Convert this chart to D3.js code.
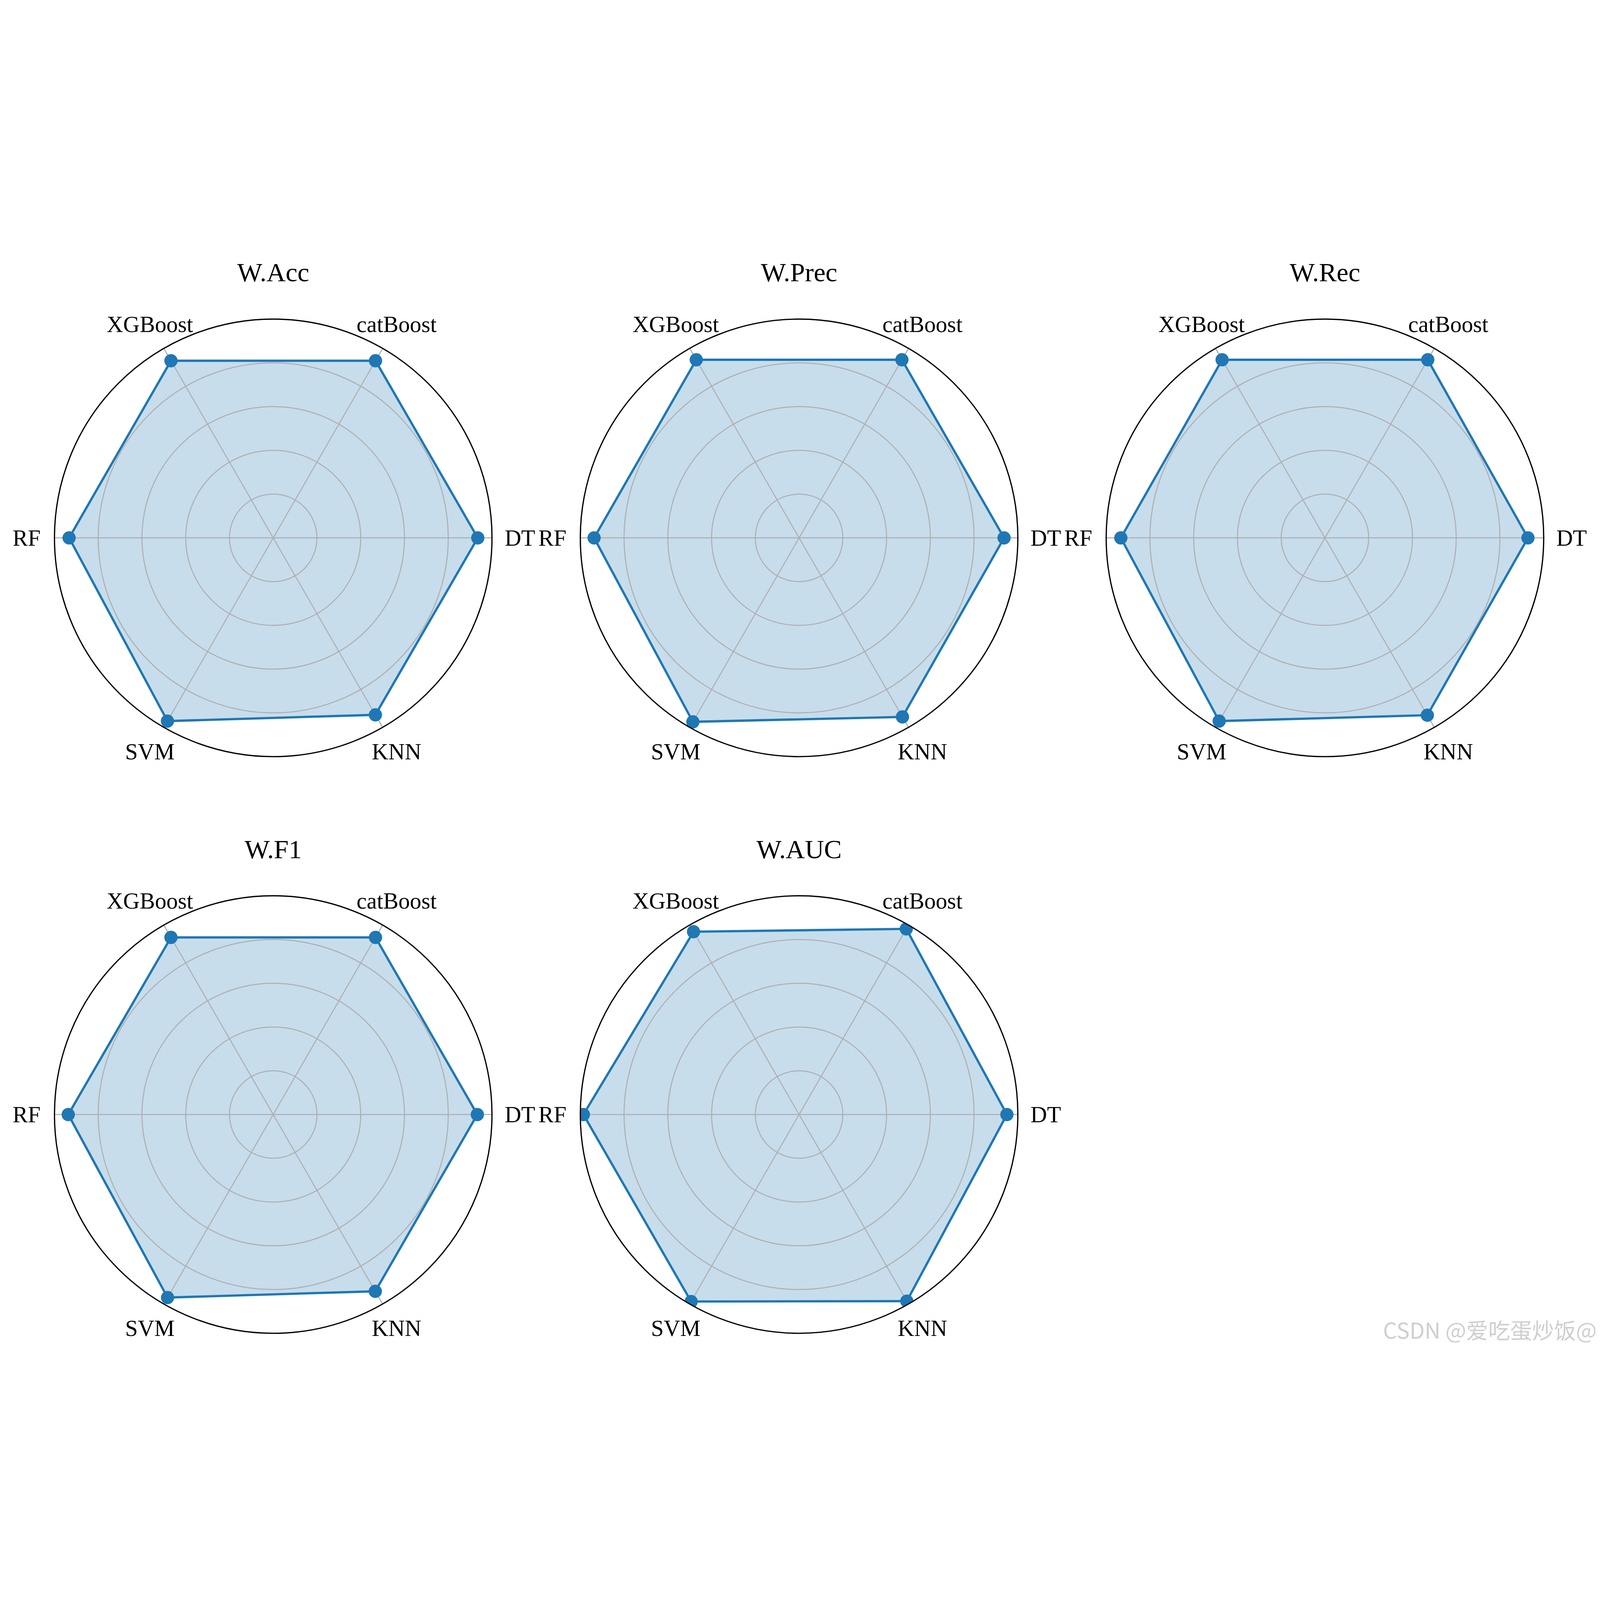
<!DOCTYPE html>
<html>
<head>
<meta charset="utf-8">
<script src="https://cdn.jsdelivr.net/npm/d3@7"></script>
<style>
  html, body { margin: 0; padding: 0; background: #fff; overflow: hidden; }
  svg { display: block; width: 100vw; height: 100vh; }
</style>
</head>
<body>
<script>
//models on the spokes, counterclockwise starting from the right
let categories = ['DT', 'catBoost', 'XGBoost', 'RF', 'SVM', 'KNN'];

//one small array per metric, same order as categories
let accValues  = [0.935, 0.935, 0.935, 0.933, 0.967, 0.934];
let precValues = [0.937, 0.940, 0.940, 0.937, 0.971, 0.945];
let recValues  = [0.928, 0.940, 0.940, 0.933, 0.967, 0.936];
let f1Values   = [0.933, 0.935, 0.935, 0.937, 0.966, 0.933];
let aucValues  = [0.950, 0.980, 0.965, 0.986, 0.987, 0.985];

let titles = ['W.Acc', 'W.Prec', 'W.Rec', 'W.F1', 'W.AUC'];
let seriesList = [accValues, precValues, recValues, f1Values, aucValues];

//radial grid rings (tick labels are hidden in the picture)
let rTicks = [0.2, 0.4, 0.6, 0.8, 1.0];

//canvas (drawing units, scaled to the window through the viewBox)
let width = 6992;
let height = 4821;

//subplot grid
let colX = 1194;
let colStep = 2298;
let rowY = 1265;
let rowStep = 2520;
let radius = 956;

let blue = '#1f77b4';
let serif = '"Times New Roman", "Liberation Serif", serif';

let svg = d3.select('body').append('svg')
    .attr('viewBox', '0 0 ' + width + ' ' + height)
    .attr('preserveAspectRatio', 'xMidYMid meet');

svg.append('rect')
    .attr('width', width)
    .attr('height', height)
    .attr('fill', '#fff');

//one polar chart
let drawRadar = (title, values, cx, cy, idx) => {
    let g = svg.append('g')
        .attr('transform', 'translate(' + cx + ',' + cy + ')');

    let rScale = d3.scaleLinear().domain([0, 1]).range([0, radius]);
    //theta like matplotlib: 0 at east, counterclockwise
    let tScale = d3.scaleLinear().domain([0, categories.length]).range([0, 2 * Math.PI]);
    let px = (r, i) => rScale(r) * Math.cos(tScale(i));
    let py = (r, i) => -rScale(r) * Math.sin(tScale(i));

    //lineRadial measures angle clockwise from 12 o'clock
    let radar = d3.lineRadial()
        .angle((d, i) => Math.PI / 2 - tScale(i))
        .radius(d => rScale(d))
        .curve(d3.curveLinearClosed);

    let clipId = 'clip' + idx;
    g.append('clipPath').attr('id', clipId)
        .append('circle').attr('r', rScale(1));

    //filled area
    g.append('path')
        .attr('d', radar(values))
        .attr('fill', blue)
        .attr('fill-opacity', 0.25)
        .attr('clip-path', 'url(#' + clipId + ')');

    //rings
    g.selectAll('.ring')
        .data(rTicks)
        .join('circle')
        .attr('class', 'ring')
        .attr('r', d => rScale(d))
        .attr('fill', 'none')
        .attr('stroke', '#b0b0b0')
        .attr('stroke-width', 4.7);

    //spokes
    g.selectAll('.spoke')
        .data(categories)
        .join('line')
        .attr('class', 'spoke')
        .attr('x1', 0)
        .attr('y1', 0)
        .attr('x2', (d, i) => px(1, i))
        .attr('y2', (d, i) => py(1, i))
        .attr('stroke', '#b0b0b0')
        .attr('stroke-width', 4.7);

    //outline + markers, clipped to the circle like matplotlib
    let data = g.append('g').attr('clip-path', 'url(#' + clipId + ')');
    data.append('path')
        .attr('d', radar(values))
        .attr('fill', 'none')
        .attr('stroke', blue)
        .attr('stroke-width', 10)
        .attr('stroke-linejoin', 'round');

    data.selectAll('.dot')
        .data(values)
        .join('circle')
        .attr('class', 'dot')
        .attr('cx', (d, i) => px(d, i))
        .attr('cy', (d, i) => py(d, i))
        .attr('r', 29)
        .attr('fill', blue);

    //outer spine
    g.append('circle')
        .attr('r', rScale(1))
        .attr('fill', 'none')
        .attr('stroke', '#000')
        .attr('stroke-width', 5.3);

    //category labels
    let labelR = radius + 122;
    g.selectAll('.cat')
        .data(categories)
        .join('text')
        .attr('class', 'cat')
        .attr('x', (d, i) => labelR * Math.cos(tScale(i)))
        .attr('y', (d, i) => -labelR * Math.sin(tScale(i)))
        .attr('dy', '0.34em')
        .attr('text-anchor', 'middle')
        .attr('font-family', serif)
        .attr('font-size', 100)
        .attr('fill', '#000')
        .text(d => d);

    //title
    g.append('text')
        .attr('x', 0)
        .attr('y', -radius - 165)
        .attr('text-anchor', 'middle')
        .attr('font-family', serif)
        .attr('font-size', 116)
        .attr('fill', '#000')
        .text(title);
};

titles.forEach((t, k) => {
    let col = k % 3;
    let row = Math.floor(k / 3);
    drawRadar(t, seriesList[k], colX + col * colStep, rowY + row * rowStep, k);
});

//watermark
svg.append('text')
    .attr('x', 6978)
    .attr('y', 4764)
    .attr('text-anchor', 'end')
    .attr('font-family', '"Noto Sans CJK SC", "Noto Sans", sans-serif')
    .attr('font-size', 96)
    .attr('fill', '#cfcfcf')
    .text('CSDN @爱吃蛋炒饭@');
</script>
</body>
</html>
